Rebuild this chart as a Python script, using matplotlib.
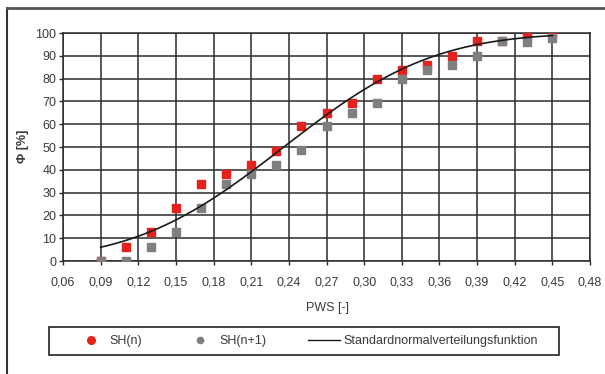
import math
import numpy as np
import matplotlib
matplotlib.use("Agg")
import matplotlib.pyplot as plt
from matplotlib.lines import Line2D
from matplotlib.patches import Rectangle

plt.rcParams['font.family'] = ['Liberation Sans', 'DejaVu Sans']

# PWS class centres
pws = [0.09, 0.11, 0.13, 0.15, 0.17, 0.19, 0.21, 0.23, 0.25, 0.27,
       0.29, 0.31, 0.33, 0.35, 0.37, 0.39, 0.41, 0.43, 0.45]

# cumulative frequency [%]
sh_n = [0.0, 6.3, 12.9, 23.1, 33.8, 38.2, 42.3, 48.4, 59.0, 64.9,
        69.3, 79.8, 83.6, 86.1, 90.0, 96.3, 96.3, 98.8, 100.0]
sh_n1 = [0.0, 0.0, 6.3, 12.9, 23.1, 33.8, 38.2, 42.3, 48.6, 59.0,
         64.9, 69.3, 79.8, 83.6, 85.8, 90.1, 96.3, 96.1, 98.0]

# fitted normal distribution
mu = 0.236
sigma = 0.094
curve_start, curve_end = 0.09, 0.45

x_ticks = [0.06, 0.09, 0.12, 0.15, 0.18, 0.21, 0.24, 0.27, 0.30, 0.33,
           0.36, 0.39, 0.42, 0.45, 0.48]
y_ticks = list(range(0, 101, 10))

red = '#e5211b'
grey = '#7f7f7f'
grid_c = '#2b2b2b'
text_c = '#3a3a3a'
fs = 9

fig = plt.figure(figsize=(6.05, 3.74), dpi=100)
W, H = 605, 374
ax = fig.add_axes([63 / W, 1 - 261 / H, (590 - 63) / W, (261 - 33) / H])

xc = np.linspace(curve_start, curve_end, 300)
yc = np.array([50 * (1 + math.erf((v - mu) / (sigma * math.sqrt(2)))) for v in xc])

ax.plot(pws, sh_n, 's', color=red, ms=5.6, mec=red, zorder=3)
ax.plot(pws, sh_n1, 's', color=grey, ms=5.6, mec=grey, zorder=4)
ax.plot(xc, yc, '-', color='#1a1a1a', lw=1.2, zorder=5)

ax.set_xlim(0.06, 0.48)
ax.set_ylim(0, 100)
ax.set_xticks(x_ticks)
ax.set_xticklabels([f"{t:.2f}".replace('.', ',') for t in x_ticks])
ax.set_yticks(y_ticks)
ax.grid(True, color=grid_c, lw=1.1)
ax.set_axisbelow(True)
for s in ax.spines.values():
    s.set_color(grid_c)
    s.set_linewidth(1.1)
ax.tick_params(axis='both', direction='out', length=3.2, width=1.0,
               color=grid_c, labelsize=fs, labelcolor=text_c)
ax.tick_params(axis='x', pad=8.0)
ax.tick_params(axis='y', pad=1.5)

fig.text(328 / W, 1 - 308 / H, 'PWS [-]', fontsize=fs, color=text_c,
         ha='center', va='center')
fig.text(23 / W, 1 - 146 / H, 'Φ [%]', fontsize=fs, color=text_c,
         fontweight='bold', rotation=90, ha='center', va='center')

handles = [
    Line2D([], [], ls='none', marker='o', color=red, ms=5.5, label='SH(n)'),
    Line2D([], [], ls='none', marker='o', color=grey, ms=4.5, label='SH(n+1)'),
    Line2D([], [], color='#1a1a1a', lw=1.0, label='Standardnormalverteilungsfunktion'),
]
leg = fig.legend(handles=handles, loc='center', ncol=3,
                 bbox_to_anchor=(306 / W, 1 - 341 / H),
                 frameon=False, fontsize=fs,
                 handlelength=2.6, columnspacing=3.3, handletextpad=0.25,
                 borderpad=0.0)
for t in leg.get_texts():
    t.set_color(text_c)

# legend frame
fig.add_artist(Rectangle((49 / W, 1 - 355 / H), (559 - 49) / W, (355 - 327) / H,
                         transform=fig.transFigure, fill=False,
                         edgecolor='#333333', lw=1.3))

# outer frame of the chart area
fig.add_artist(Line2D([7 / W, 7 / W], [0, 1 - 8 / H], transform=fig.transFigure,
                      color='#333333', lw=1.5))
fig.add_artist(Line2D([7 / W, 1], [1 - 8 / H, 1 - 8 / H], transform=fig.transFigure,
                      color='#555555', lw=2.0))

fig.savefig('out.png', dpi=100)
